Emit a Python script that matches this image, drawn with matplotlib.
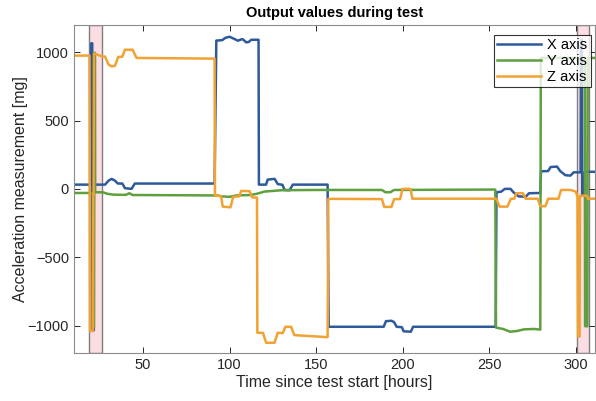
import matplotlib
matplotlib.use('Agg')
import matplotlib.pyplot as plt

# breakpoints of each accelerometer channel: (hours, mg)
x_axis = [(10, 31), (19.9, 31), (20.0, 1065), (20.6, 1065), (20.7, -1035), (21.5, -1035),
          (21.6, 31), (28, 31), (30, 60), (31.8, 73), (33.5, 62), (35.4, 39), (38, 39),
          (39.5, 5), (43.3, 0), (45.2, 39), (91.3, 39), (92.3, 1085), (95.7, 1088),
          (97.5, 1105), (100, 1113), (102.5, 1098), (104.8, 1084), (106.5, 1093),
          (107.5, 1095), (109.6, 1072), (111, 1075), (112.5, 1091), (116.7, 1091),
          (116.9, 31), (121, 31), (122, 68), (126, 73), (127.8, 35), (130.5, 30),
          (131.7, -8), (134.6, -10), (136.5, 31), (156.6, 31), (157.2, -1009),
          (189, -1009), (190.3, -968), (193.5, -965), (195, -975), (196.5, -1009),
          (199.5, -1012), (200.5, -1042), (204.7, -1045), (206, -1009), (253.7, -1009),
          (254.2, -25), (257, -20), (259, 0), (262.3, 0), (264, -25), (267, -55),
          (271, -58), (273, -32), (279.5, -30), (279.9, 129), (284, 130), (285.5, 160),
          (289.2, 163), (291, 130), (294, 100), (296.9, 97), (298.8, 121), (302.8, 121),
          (303.0, 1090), (303.5, 1090), (303.7, -40), (305.0, -40), (305.2, 125), (311, 125)]

y_axis = [(10, -30), (19, -30), (21.0, -35), (21.1, -1010), (21.6, -1010), (21.7, 995),
          (22.2, 995), (22.3, -25), (26.8, -25), (29, -35), (32.5, -42), (40, -44),
          (42, -32), (44, -45), (91, -48), (93, -48), (95, -55), (100, -58), (104, -48),
          (112, -45), (116, -35), (120, -20), (130, -10), (150, -8), (188, -8),
          (190, -25), (193, -24), (195, -8), (253.5, -5), (253.9, -1015), (258, -1025),
          (262, -1045), (266, -1040), (270, -1028), (276, -1025), (279.5, -1030),
          (279.8, 958), (305.2, 958), (305.4, -1005), (306.7, -1005), (306.9, 958), (311, 958)]

z_axis = [(10, 975), (19.0, 975), (19.3, -1040), (21.0, -1040), (21.2, -40), (21.4, -40),
          (21.6, 990), (23, 985), (26, 970), (28, 968), (30, 910), (31.8, 896),
          (33.7, 900), (35.6, 965), (38, 968), (39.5, 1018), (43.9, 1018), (46.2, 958),
          (91.3, 953), (91.5, -50), (95, -52), (96, -130), (100.5, -135), (102, -58),
          (105.5, -55), (106.7, -15), (111.5, -17), (113, -62), (115.8, -64),
          (116.0, -1053), (119.2, -1053), (121.1, -1126), (125.9, -1126), (127.8, -1053),
          (130.7, -1055), (132.2, -1009), (135.5, -1009), (137.4, -1070), (156.6, -1085),
          (157.0, -73), (188, -75), (189.3, -132), (193.5, -132), (195, -75),
          (198.5, -75), (199.9, 0), (204.5, 0), (205.6, -72), (254, -72), (256, -130),
          (260.5, -130), (262.5, -72), (264.5, -72), (265.7, -32), (269.5, -32),
          (271, -72), (278, -72), (279.5, -127), (282.5, -127), (284, -72), (290, -72),
          (291.5, -8), (297, -8), (300, -20), (301.0, -60), (301.3, -1080),
          (302.2, -1080), (302.4, -50), (306.5, -50), (307, -72), (311, -72)]

# shaded periods (hours)
events = [(19.0, 26.1), (300.8, 307.4)]

series = [('X axis', x_axis, '#2E5A9C'),
          ('Y axis', y_axis, '#5E9F3E'),
          ('Z axis', z_axis, '#F2A233')]

plt.rcParams['font.family'] = ['Liberation Sans', 'DejaVu Sans']

fig = plt.figure(figsize=(5.96, 4.01), dpi=100)
ax = fig.add_axes([0.124, 0.12, 0.874, 0.818])

for start, end in events:
    ax.axvspan(start, end, facecolor='#FBDDE3', edgecolor='#7F7F7F', lw=1.0, zorder=0)

for name, pts, color in series:
    t = [p[0] for p in pts]
    v = [p[1] for p in pts]
    ax.plot(t, v, color=color, lw=1.8, label=name, solid_joinstyle='round')

ax.set_xlim(10, 311)
ax.set_ylim(-1200, 1200)
ax.set_xticks([50, 100, 150, 200, 250, 300])
ax.set_yticks([-1000, -500, 0, 500, 1000])

ax.tick_params(direction='in', top=True, right=True, labelsize=10.5,
               colors='#262626', length=4, width=0.7)
for s in ax.spines.values():
    s.set_color('#8C8C8C')
    s.set_linewidth(0.8)

ax.set_title('Output values during test', fontsize=10.5, fontweight='bold', pad=6)
ax.set_xlabel('Time since test start [hours]', fontsize=11.5, color='#262626', labelpad=2)
ax.set_ylabel('Acceleration measurement [mg]', fontsize=11.5, color='#262626', labelpad=0)

leg = ax.legend(loc='upper right', bbox_to_anchor=(0.992, 0.97), borderaxespad=0,
                fontsize=10.5, frameon=True, fancybox=False, handlelength=3.0,
                borderpad=0.25, labelspacing=0.12, handletextpad=0.4)
leg.get_frame().set_edgecolor('black')
leg.get_frame().set_linewidth(0.8)

fig.savefig('out.png', dpi=100)
